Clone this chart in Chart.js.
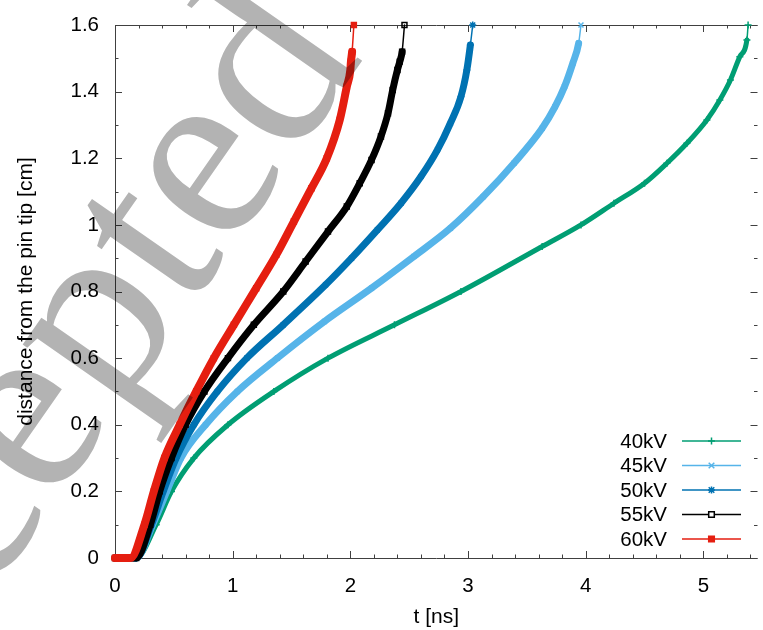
<!DOCTYPE html>
<html><head><meta charset="utf-8">
<script src="https://cdn.jsdelivr.net/npm/chart.js@4/dist/chart.umd.min.js"></script>
<style>html,body{margin:0;padding:0;background:#fff;}#wrap{width:763px;height:630px;position:relative;}</style>
</head><body><div id="wrap"><canvas id="c" width="763" height="630"></canvas></div>
<script>
// ---------- data ----------
const seriesNames = ['40kV', '45kV', '50kV', '55kV', '60kV'];

const t40 = [0, 0.18, 0.35, 0.48, 0.67, 0.96, 1.35, 1.81, 2.375, 2.94, 3.63, 3.96, 4.24, 4.50, 4.69, 4.86, 5.03, 5.14, 5.23, 5.31, 5.37, 5.38];
const d40 = [0, 0, 0.10, 0.20, 0.30, 0.40, 0.50, 0.60, 0.70, 0.80, 0.935, 1.00, 1.065, 1.125, 1.185, 1.245, 1.315, 1.375, 1.435, 1.505, 1.555, 1.6];

const t45 = [0, 0.18, 0.32, 0.44, 0.56, 0.77, 1.04, 1.38, 1.78, 2.18, 2.54, 2.85, 3.13, 3.39, 3.63, 3.74, 3.82, 3.89, 3.94, 3.96];
const d45 = [0, 0, 0.10, 0.20, 0.30, 0.40, 0.50, 0.60, 0.71, 0.81, 0.905, 0.99, 1.085, 1.185, 1.29, 1.355, 1.415, 1.485, 1.545, 1.6];

const t50 = [0, 0.18, 0.31, 0.41, 0.52, 0.67, 0.87, 1.12, 1.43, 1.79, 2.01, 2.23, 2.43, 2.60, 2.74, 2.85, 2.94, 2.99, 3.02, 3.04];
const d50 = [0, 0, 0.10, 0.20, 0.30, 0.40, 0.50, 0.60, 0.70, 0.82, 0.90, 0.985, 1.065, 1.145, 1.225, 1.305, 1.385, 1.465, 1.54, 1.6];

const t55 = [0, 0.18, 0.30, 0.38, 0.48, 0.60, 0.76, 0.96, 1.18, 1.43, 1.62, 1.81, 1.97, 2.08, 2.18, 2.26, 2.32, 2.36, 2.40, 2.42, 2.44, 2.46];
const d55 = [0, 0, 0.10, 0.20, 0.30, 0.40, 0.50, 0.60, 0.70, 0.80, 0.89, 0.98, 1.055, 1.125, 1.195, 1.265, 1.335, 1.405, 1.465, 1.49, 1.52, 1.6];

const t60 = [0, 0.13, 0.25, 0.33, 0.42, 0.55, 0.69, 0.84, 1.01, 1.20, 1.37, 1.52, 1.67, 1.80, 1.91, 1.97, 2.00, 2.005, 2.015, 2.03];
const d60 = [0, 0, 0.10, 0.20, 0.30, 0.40, 0.50, 0.60, 0.70, 0.81, 0.91, 1.01, 1.11, 1.20, 1.315, 1.415, 1.465, 1.49, 1.52, 1.6];

const xTickValues = [0, 1, 2, 3, 4, 5];
const xTickLabels = ['0', '1', '2', '3', '4', '5'];
const yTickValues = [0, 0.2, 0.4, 0.6, 0.8, 1.0, 1.2, 1.4, 1.6];
const yTickLabels = ['0', '0.2', '0.4', '0.6', '0.8', '1', '1.2', '1.4', '1.6'];

const xTitle = 't [ns]';
const yTitle = 'distance from the pin tip [cm]';
const watermarkText = 'Accepted';

// ---------- styles ----------
const seriesT = [t40, t45, t50, t55, t60];
const seriesD = [d40, d45, d50, d55, d60];
const colors = ['#009e73', '#56b4e9', '#0072b2', '#000000', '#e51e10'];
const bandWidths = [5, 7, 7, 7, 8];
const pStyles = ['cross', 'crossRot', 'star', 'rect', 'rect'];
const pFill = ['#009e73', '#56b4e9', '#0072b2', 'rgba(0,0,0,0)', '#e51e10'];
const FONT = '"Liberation Sans", Arial, Helvetica, sans-serif';

const datasets = seriesNames.map((name, k) => {
  const n = seriesT[k].length;
  return {
    label: name,
    order: seriesNames.length - 1 - k,
    data: seriesT[k].map((x, i) => ({ x: x, y: seriesD[k][i] })),
    borderColor: colors[k],
    backgroundColor: pFill[k],
    pointBackgroundColor: pFill[k],
    pointBorderColor: colors[k],
    pointStyle: pStyles[k],
    pointRadius: 3.5,
    pointBorderWidth: 1.5,
    borderWidth: bandWidths[k],
    borderJoinStyle: 'round',
    borderCapStyle: 'round',
    cubicInterpolationMode: 'monotone',
    clip: false,
    segment: {
      borderWidth: ctx => (ctx.p1DataIndex === n - 1 ? 1.5 : bandWidths[k])
    }
  };
});

function drawMarker(ctx, style, x, y, r, stroke, fill) {
  ctx.save();
  ctx.strokeStyle = stroke; ctx.fillStyle = fill; ctx.lineWidth = 1.5;
  ctx.beginPath();
  if (style === 'cross' || style === 'star') {
    ctx.moveTo(x - r, y); ctx.lineTo(x + r, y); ctx.moveTo(x, y - r); ctx.lineTo(x, y + r);
  }
  if (style === 'crossRot' || style === 'star') {
    const a = r * 0.8;
    ctx.moveTo(x - a, y - a); ctx.lineTo(x + a, y + a); ctx.moveTo(x - a, y + a); ctx.lineTo(x + a, y - a);
  }
  if (style === 'rect') {
    ctx.rect(x - r * 0.8, y - r * 0.8, r * 1.6, r * 1.6);
    ctx.fill();
  }
  ctx.stroke();
  ctx.restore();
}

const framePlugin = {
  id: 'frame',
  beforeDatasetsDraw(chart) {
    const ctx = chart.ctx, a = chart.chartArea, xs = chart.scales.x, ys = chart.scales.y;
    ctx.save();
    ctx.strokeStyle = '#404040';
    ctx.lineWidth = 1;
    ctx.beginPath();
    ctx.moveTo(a.left + 0.5, a.top + 0.5); ctx.lineTo(a.left + 0.5, a.bottom + 0.5);
    ctx.lineTo(a.right, a.bottom + 0.5);
    ctx.moveTo(a.left + 0.5, a.top + 0.5); ctx.lineTo(a.right, a.top + 0.5);
    ctx.stroke();
    ctx.beginPath();
    for (let v = 0; v <= xs.max + 1e-9; v += 0.2) {
      const major = Math.abs(v - Math.round(v)) < 1e-6;
      const L = major ? 7 : 3.5;
      const px = Math.round(xs.getPixelForValue(v)) + 0.5;
      ctx.moveTo(px, a.bottom); ctx.lineTo(px, a.bottom - L);
      ctx.moveTo(px, a.top); ctx.lineTo(px, a.top + L);
    }
    for (let v = 0; v <= ys.max + 1e-9; v += 0.1) {
      const major = Math.abs(v * 5 - Math.round(v * 5)) < 1e-6;
      const L = major ? 7 : 3.5;
      const py = Math.round(ys.getPixelForValue(v)) + 0.5;
      ctx.moveTo(a.left, py); ctx.lineTo(a.left + L, py);
      ctx.moveTo(a.right, py); ctx.lineTo(a.right - L, py);
    }
    ctx.stroke();
    ctx.restore();
  },
  afterDraw(chart) {
    const ctx = chart.ctx;
    const textRight = 667, lineL = 682, lineR = 741, mk = 711.5, y0 = 441, dy = 24.5;
    ctx.save();
    ctx.font = '20.5px ' + FONT;
    ctx.textAlign = 'right';
    ctx.textBaseline = 'middle';
    seriesNames.forEach((name, k) => {
      const y = y0 + k * dy;
      ctx.fillStyle = '#000';
      ctx.fillText(name, textRight, y + 1);
      ctx.strokeStyle = colors[k];
      ctx.lineWidth = 1.5;
      ctx.beginPath(); ctx.moveTo(lineL, y); ctx.lineTo(lineR, y); ctx.stroke();
      drawMarker(ctx, pStyles[k], mk, y, 3.5, colors[k], k === 3 ? '#fff' : pFill[k]);
    });
    ctx.restore();
    // watermark
    ctx.save();
    ctx.globalCompositeOperation = 'multiply';
    ctx.fillStyle = '#b3b3b3';
    ctx.translate(-182.6, 841.6);
    ctx.rotate(-55.1 * Math.PI / 180);
    ctx.font = '253px "Liberation Serif", "Times New Roman", serif';
    ctx.textBaseline = 'alphabetic';
    ctx.textAlign = 'left';
    ctx.fillText(watermarkText, 0, 0);
    ctx.restore();
  }
};

new Chart(document.getElementById('c'), {
  type: 'line',
  data: { datasets: datasets },
  options: {
    responsive: false,
    animation: false,
    devicePixelRatio: 1,
    layout: { padding: { top: 25, right: 0, left: 0, bottom: 0 } },
    plugins: { legend: { display: false }, tooltip: { enabled: false } },
    elements: { line: { fill: false } },
    scales: {
      x: {
        type: 'linear', min: 0, max: 5.46,
        grid: { display: false, drawTicks: false, tickLength: 0 },
        border: { display: false },
        afterBuildTicks: s => { s.ticks = xTickValues.map(v => ({ value: v })); },
        afterFit: s => { s.height = 72; s.paddingLeft = 0; s.paddingRight = 0; },
        ticks: {
          padding: 16, color: '#000', maxRotation: 0, autoSkip: false,
          font: { family: FONT, size: 20.5 },
          callback: (v, i) => xTickLabels[i]
        },
        title: { display: true, text: xTitle, color: '#000', font: { family: FONT, size: 21 }, padding: { top: 0, bottom: 0 } }
      },
      y: {
        type: 'linear', min: 0, max: 1.6,
        grid: { display: false, drawTicks: false, tickLength: 0 },
        border: { display: false },
        afterBuildTicks: s => { s.ticks = yTickValues.map(v => ({ value: v })); },
        afterFit: s => { s.width = 115; s.paddingTop = 0; s.paddingBottom = 0; },
        ticks: {
          padding: 16, color: '#000', autoSkip: false,
          font: { family: FONT, size: 20.5 },
          callback: (v, i) => yTickLabels[i]
        },
        title: { display: true, text: yTitle, color: '#000', font: { family: FONT, size: 21 }, padding: { top: 14, bottom: 0 } }
      }
    }
  },
  plugins: [framePlugin]
});
</script>
</body></html>
